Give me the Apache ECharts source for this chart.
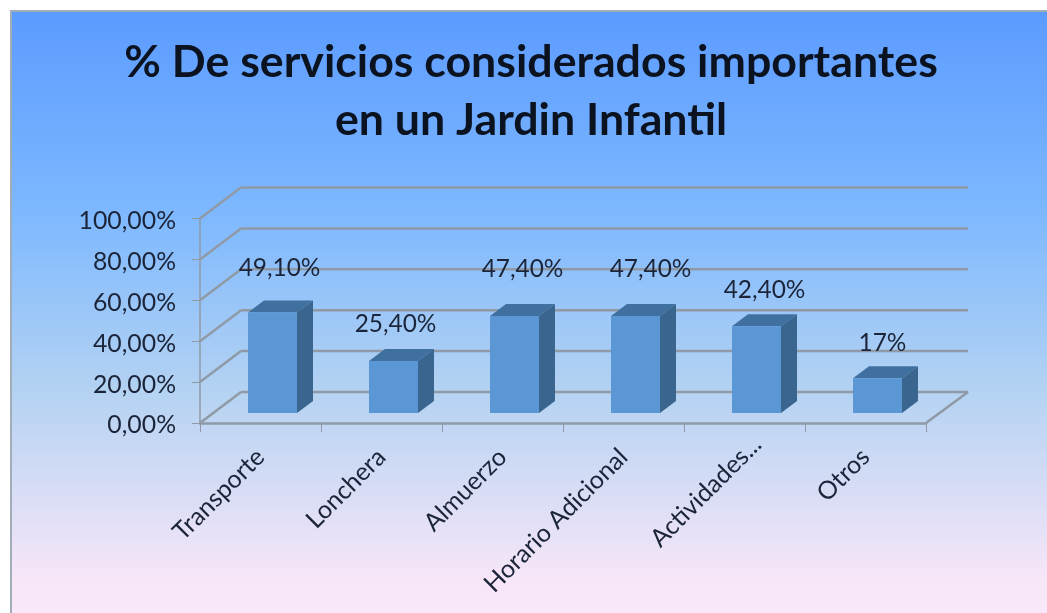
<!DOCTYPE html>
<html><head><meta charset="utf-8">
<style>html,body{margin:0;padding:0;background:#fff}#c{width:1047px;height:613px}</style>
<script src="https://cdn.jsdelivr.net/npm/echarts@6/dist/echarts.min.js"></script>
</head><body><div id="c"></div>
<script>
const categories = ['Transporte','Lonchera','Almuerzo','Horario Adicional','Actividades...','Otros'];
const values = [49.1,25.4,47.4,47.4,42.4,17];
const valueLabels = ['49,10%','25,40%','47,40%','47,40%','42,40%','17%'];
const yTicks = [0,20,40,60,80,100];
const titleLines = '% De servicios considerados importantes\nen un Jardin Infantil';
const labelLift = [44.5,36.5,46.5,46.5,36.5,35.5];
const labelShift = [7,2,8,15,8,5];

const font = 'Lato, "Open Sans", sans-serif';
const ink = '#1b2438';
const gridColor = '#8f9aa6';
const depth = [41,-31];
const chart = echarts.init(document.getElementById('c'),null,{renderer:'canvas'});
chart.setOption({
  animation:false,
  backgroundColor:'#fff',
  graphic:[{type:'rect',z:-10,shape:{x:11,y:11,width:1050,height:610},
    style:{stroke:'#a3adb8',lineWidth:2,fill:new echarts.graphic.LinearGradient(0,0,0,1,[
      {offset:0,color:'#5b9bff'},{offset:0.33,color:'#7db8ff'},{offset:0.62,color:'#b3d2f2'},{offset:0.93,color:'#f7e6f8'},{offset:1,color:'#f9e8f9'}])}}],
  title:{text:titleLines,left:526,top:29,textAlign:'center',
    textStyle:{fontFamily:font,fontWeight:'bold',fontSize:44.7,lineHeight:58,color:'#0b1220'}},
  grid:{left:200,top:218.5,width:726,height:204.5},
  xAxis:{type:'category',
    data:categories.map(c=>c.endsWith('...')?{value:c,textStyle:{padding:[0,-18,0,0]}}:c),
    axisLine:{show:true,lineStyle:{color:gridColor,width:2.5}},
    axisTick:{show:true,length:9,alignWithLabel:false,lineStyle:{color:gridColor,width:1}},
    axisLabel:{rotate:45,interval:0,margin:30,fontFamily:font,fontSize:25,color:ink}},
  yAxis:{type:'value',min:0,max:100,interval:20,
    axisLine:{show:true,lineStyle:{color:gridColor,width:1.5}},
    axisTick:{show:true,length:8,lineStyle:{color:gridColor,width:1}},
    splitLine:{show:false},
    axisLabel:{margin:24,verticalAlign:'top',padding:[-10,0,0,0],fontFamily:font,fontSize:24.8,color:ink,
      formatter:v=>v.toFixed(2).replace('.',',')+'%'}},
  series:[
    {type:'custom',z:1,silent:true,clip:false,
     data:yTicks.map(t=>[0,t]),
     renderItem(params,api){
       const p=api.coord([0,api.value(1)]);
       const r=params.coordSys;
       const x0=r.x,x1=r.x+r.width,y=p[1];
       const ln=(a,b,c,d)=>({type:'line',shape:{x1:a,y1:b,x2:c,y2:d},style:{stroke:gridColor,lineWidth:2.5}});
       const kids=[ln(x0,y,x0+depth[0],y+depth[1]),ln(x0+depth[0],y+depth[1],x1+depth[0]+1,y+depth[1])];
       if(api.value(1)===0) kids.push(ln(x1,y,x1+depth[0]+1,y+depth[1]));
       return {type:'group',children:kids};
     }},
    {type:'custom',z:2,silent:true,clip:false,
     data:values.map((v,i)=>[i,v,0]),
     renderItem(params,api){
       const i=api.value(0),v=api.value(1);
       const top=api.coord([i,v]),base=api.coord([i,0]);
       const w=49,dx=16,dy=-12,ox=12,oy=-10;
       const cx=top[0]+ox;
       const l=cx-w/2,r=cx+w/2,t=top[1]+oy,b=base[1]+oy;
       const poly=(pts,fill)=>({type:'polygon',shape:{points:pts},style:{fill}});
       return {type:'group',children:[
         poly([[l,t],[r,t],[r+dx,t+dy],[l+dx,t+dy]],'#3f709f'),
         poly([[r,t],[r+dx,t+dy],[r+dx,b+dy],[r,b]],'#39658f'),
         {type:'rect',shape:{x:l,y:t,width:w,height:b-t},style:{fill:'#5b97d5'}},
         {type:'text',z2:5,style:{text:valueLabels[i],x:cx+labelShift[i],y:top[1]+oy-labelLift[i],align:'center',verticalAlign:'middle',
            fontFamily:font,fontSize:24.4,fill:ink}}
       ]};
     }}
  ]
});
</script></body></html>
